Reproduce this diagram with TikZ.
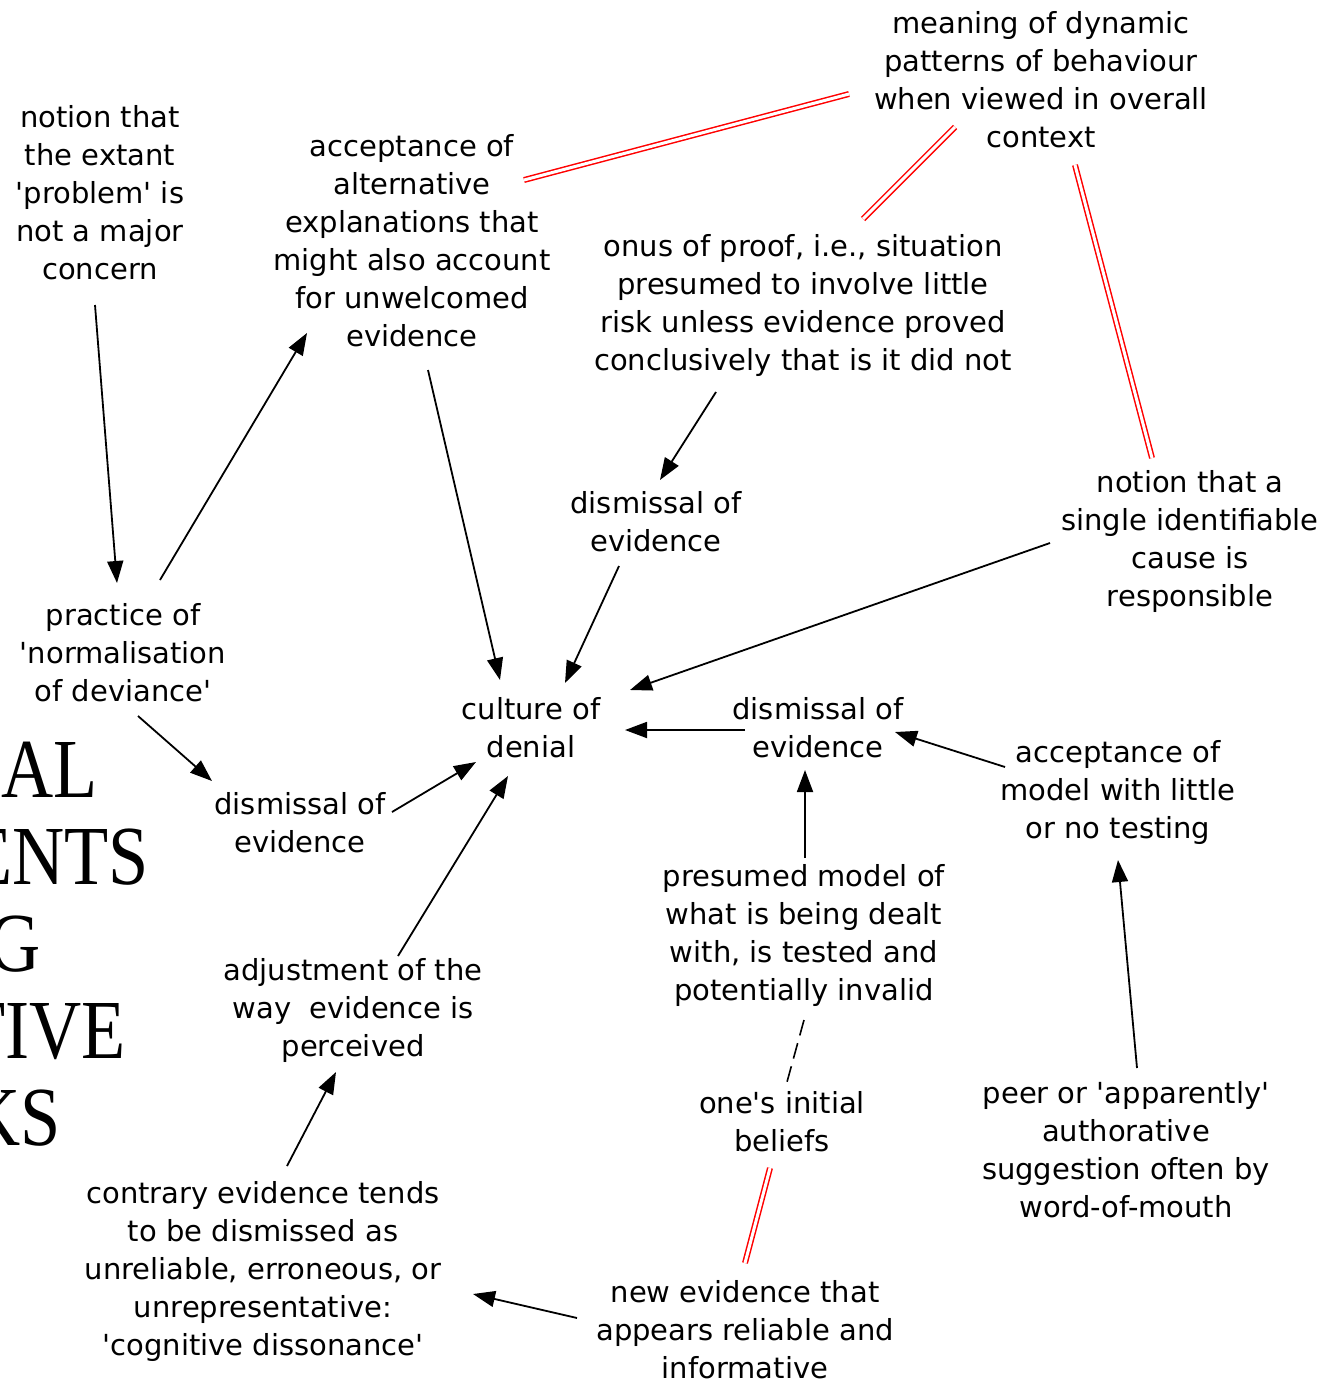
\documentclass[tikz,border=0pt]{standalone}
\usepackage{fontspec}
\setmainfont{DejaVu Sans}[Ligatures=TeXOff]
\newfontfamily\serifbig{Liberation Serif}
\usetikzlibrary{arrows.meta}
\begin{document}
\begin{tikzpicture}[x=1pt,y=-1pt,
  lbl/.style={align=center,inner sep=0pt,font=\fontsize{29}{38}\selectfont},
  big/.style={anchor=base east,inner sep=0pt,font=\serifbig\fontsize{84}{84}\selectfont},
  arr/.style={line width=1.8pt,-{Triangle[length=22pt,width=16pt]}},
  dsh/.style={line width=1.6pt,dash pattern=on 16pt off 8pt},
  link/.style={draw=red,line width=1.5pt,double=white,double distance=3pt}]
\useasboundingbox (0,0) rectangle (1331,1381);
\clip (0,0) rectangle (1331,1381);

% large heading fragments running off the left edge
\node[big] (h1) at (98,797)   {\scalebox{0.86}[1]{AL}};
\node[big] (h2) at (149,884)  {\scalebox{0.86}[1]{ENTS}};
\node[big] (h3) at (41,971)   {\scalebox{0.86}[1]{G}};
\node[big] (h4) at (126,1058) {\scalebox{0.86}[1]{TIVE}};
\node[big] (h5) at (61,1145)  {\scalebox{0.86}[1]{KS}};

% concept labels
\node[lbl] (meaning)  at (1041,80)  {meaning of dynamic\\patterns of behaviour\\when viewed in overall\\context};
\node[lbl] (notion)   at (100,193)  {notion that\\the extant\\'problem' is\\not a major\\concern};
\node[lbl] (accalt)   at (412,241)  {acceptance of\\alternative\\explanations that\\might also account\\for unwelcomed\\evidence};
\node[lbl] (onus)     at (803,305)  {onus of proof, i.e., situation\\presumed to involve little\\risk unless evidence proved\\conclusively that is it did not};
\node[lbl] (dis1)     at (656,522)  {dismissal of\\evidence};
\node[lbl] (single)   at (1190,541) {notion that a\\single identifiable\\cause is\\responsible};
\node[lbl] (practice) at (123,653)  {practice of\\'normalisation\\of deviance'};
\node[lbl] (culture)  at (531,728)  {culture of\\denial};
\node[lbl] (dis2)     at (818,728)  {dismissal of\\evidence};
\node[lbl] (accmodel) at (1118,792) {acceptance of\\model with little\\or no testing};
\node[lbl] (dis3)     at (300,823)  {dismissal of\\evidence};
\node[lbl] (presumed) at (804,935)  {presumed model of\\what is being dealt\\with, is tested and\\potentially invalid};
\node[lbl] (adjust)   at (353,1010) {adjustment of the\\way\ \ evidence is\\perceived};
\node[lbl] (initial)  at (782,1122) {one's initial\\beliefs};
\node[lbl] (peer)     at (1126,1150){peer or 'apparently'\\authorative\\suggestion often by\\word-of-mouth};
\node[lbl] (contrary) at (263,1271) {contrary evidence tends\\to be dismissed as\\unreliable, erroneous, or\\unrepresentative:\\'cognitive dissonance'};
\node[lbl] (newev)    at (745,1330) {new evidence that\\appears reliable and\\informative};

% causal arrows
\draw[arr] ([shift={(-5,112)}]notion.center)   -- ([shift={(-6,-70)}]practice.center);
\draw[arr] ([shift={(37,-73)}]practice.center) -- ([shift={(-105,92)}]accalt.center);
\draw[arr] ([shift={(16,129)}]accalt.center)   -- ([shift={(-31,-48)}]culture.center);
\draw[arr] ([shift={(-87,87)}]onus.center)     -- ([shift={(4,-42)}]dis1.center);
\draw[arr] ([shift={(-37,44)}]dis1.center)     -- ([shift={(34,-45)}]culture.center);
\draw[arr] ([shift={(-140,2)}]single.center)   -- ([shift={(99,-38)}]culture.center);
\draw[arr] ([shift={(-73,2)}]dis2.center)      -- ([shift={(94,2)}]culture.center);
\draw[arr] ([shift={(-113,-25)}]accmodel.center) -- ([shift={(77,4)}]dis2.center);
\draw[arr] ([shift={(1,-77)}]presumed.center)  -- ([shift={(-13,42)}]dis2.center);
\draw[arr] ([shift={(11,-82)}]peer.center)     -- ([shift={(0,68)}]accmodel.center);
\draw[arr] ([shift={(15,63)}]practice.center)  -- ([shift={(-88,-42)}]dis3.center);
\draw[arr] ([shift={(92,-11)}]dis3.center)     -- ([shift={(-55,34)}]culture.center);
\draw[arr] ([shift={(45,-54)}]adjust.center)   -- ([shift={(-23,48)}]culture.center);
\draw[arr] ([shift={(24,-105)}]contrary.center) -- ([shift={(-17,62)}]adjust.center);
\draw[arr] ([shift={(-168,-12)}]newev.center)  -- ([shift={(210,23)}]contrary.center);

% dashed link
\draw[dsh] ([shift={(0,85)}]presumed.center) -- ([shift={(5,-40)}]initial.center);

% red double links
\draw[link] ([shift={(112,-61)}]accalt.center) -- ([shift={(-192,14)}]meaning.center);
\draw[link] ([shift={(60,-86)}]onus.center)    -- ([shift={(-86,47)}]meaning.center);
\draw[link] ([shift={(34,85)}]meaning.center)  -- ([shift={(-38,-83)}]single.center);
\draw[link] ([shift={(-12,46)}]initial.center) -- ([shift={(0,-67)}]newev.center);
\end{tikzpicture}
\end{document}
